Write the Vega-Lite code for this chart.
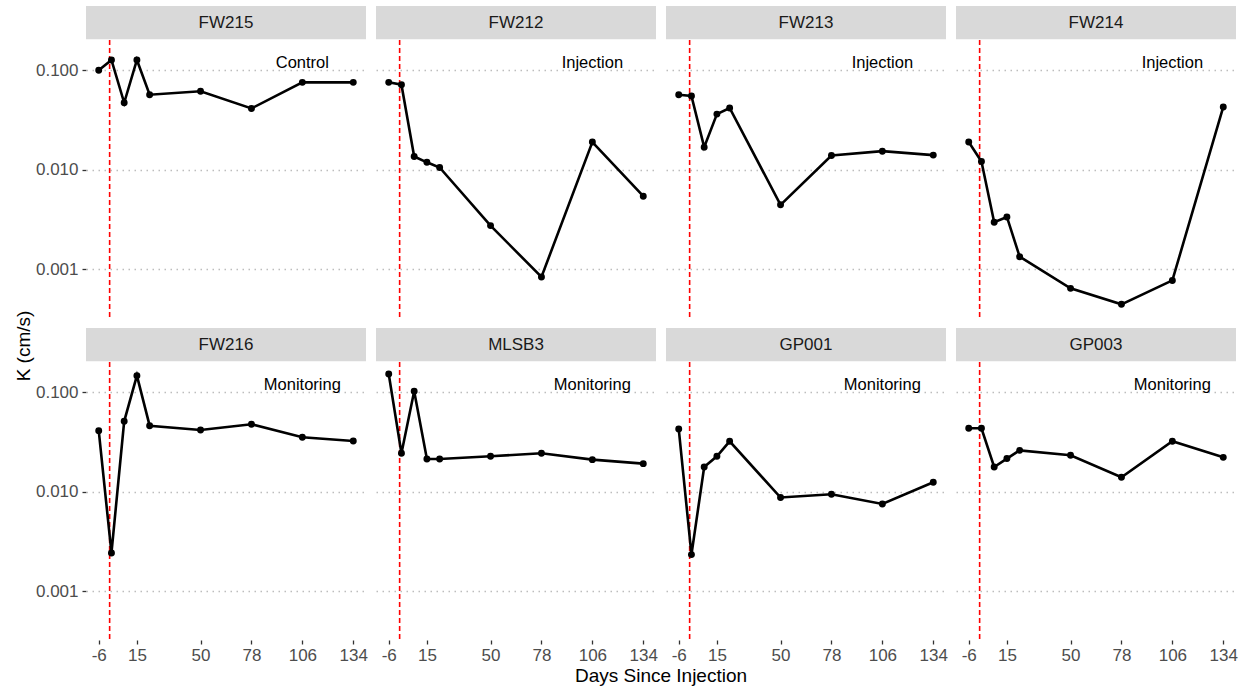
{
  "$schema": "https://vega.github.io/schema/vega-lite/v6.json",
  "background": "white",
  "padding": {"left": 15, "top": 6, "right": 5, "bottom": 5},
  "title": {"text": "K (cm/s)", "orient": "left", "anchor": "middle", "fontSize": 19, "font": "Liberation Sans", "fontWeight": "normal", "color": "black", "offset": 1},
  "data": {"values": [
    {"well": "FW215", "type": "Control", "day": -6, "K": 0.100},
    {"well": "FW215", "type": "Control", "day": 1, "K": 0.127},
    {"well": "FW215", "type": "Control", "day": 8, "K": 0.0472},
    {"well": "FW215", "type": "Control", "day": 15, "K": 0.127},
    {"well": "FW215", "type": "Control", "day": 22, "K": 0.0569},
    {"well": "FW215", "type": "Control", "day": 50, "K": 0.0615},
    {"well": "FW215", "type": "Control", "day": 78, "K": 0.0414},
    {"well": "FW215", "type": "Control", "day": 106, "K": 0.0757},
    {"well": "FW215", "type": "Control", "day": 134, "K": 0.0757},
    {"well": "FW212", "type": "Injection", "day": -6, "K": 0.0757},
    {"well": "FW212", "type": "Injection", "day": 1, "K": 0.0717},
    {"well": "FW212", "type": "Injection", "day": 8, "K": 0.0136},
    {"well": "FW212", "type": "Injection", "day": 15, "K": 0.0119},
    {"well": "FW212", "type": "Injection", "day": 22, "K": 0.01055},
    {"well": "FW212", "type": "Injection", "day": 50, "K": 0.00275},
    {"well": "FW212", "type": "Injection", "day": 78, "K": 0.000838},
    {"well": "FW212", "type": "Injection", "day": 106, "K": 0.0190},
    {"well": "FW212", "type": "Injection", "day": 134, "K": 0.00543},
    {"well": "FW213", "type": "Injection", "day": -6, "K": 0.0569},
    {"well": "FW213", "type": "Injection", "day": 1, "K": 0.0552},
    {"well": "FW213", "type": "Injection", "day": 8, "K": 0.0169},
    {"well": "FW213", "type": "Injection", "day": 15, "K": 0.0363},
    {"well": "FW213", "type": "Injection", "day": 22, "K": 0.0418},
    {"well": "FW213", "type": "Injection", "day": 50, "K": 0.00445},
    {"well": "FW213", "type": "Injection", "day": 78, "K": 0.01394},
    {"well": "FW213", "type": "Injection", "day": 106, "K": 0.0154},
    {"well": "FW213", "type": "Injection", "day": 134, "K": 0.01406},
    {"well": "FW214", "type": "Injection", "day": -6, "K": 0.0190},
    {"well": "FW214", "type": "Injection", "day": 1, "K": 0.01213},
    {"well": "FW214", "type": "Injection", "day": 8, "K": 0.00297},
    {"well": "FW214", "type": "Injection", "day": 15, "K": 0.00336},
    {"well": "FW214", "type": "Injection", "day": 22, "K": 0.00134},
    {"well": "FW214", "type": "Injection", "day": 50, "K": 0.000644},
    {"well": "FW214", "type": "Injection", "day": 78, "K": 0.000445},
    {"well": "FW214", "type": "Injection", "day": 106, "K": 0.000774},
    {"well": "FW214", "type": "Injection", "day": 134, "K": 0.0428},
    {"well": "FW216", "type": "Monitoring", "day": -6, "K": 0.0412},
    {"well": "FW216", "type": "Monitoring", "day": 1, "K": 0.00243},
    {"well": "FW216", "type": "Monitoring", "day": 8, "K": 0.0511},
    {"well": "FW216", "type": "Monitoring", "day": 15, "K": 0.147},
    {"well": "FW216", "type": "Monitoring", "day": 22, "K": 0.0462},
    {"well": "FW216", "type": "Monitoring", "day": 50, "K": 0.0418},
    {"well": "FW216", "type": "Monitoring", "day": 78, "K": 0.0477},
    {"well": "FW216", "type": "Monitoring", "day": 106, "K": 0.0353},
    {"well": "FW216", "type": "Monitoring", "day": 134, "K": 0.0324},
    {"well": "MLSB3", "type": "Monitoring", "day": -6, "K": 0.1527},
    {"well": "MLSB3", "type": "Monitoring", "day": 1, "K": 0.0244},
    {"well": "MLSB3", "type": "Monitoring", "day": 8, "K": 0.1023},
    {"well": "MLSB3", "type": "Monitoring", "day": 15, "K": 0.0214},
    {"well": "MLSB3", "type": "Monitoring", "day": 22, "K": 0.0214},
    {"well": "MLSB3", "type": "Monitoring", "day": 50, "K": 0.02276},
    {"well": "MLSB3", "type": "Monitoring", "day": 78, "K": 0.0244},
    {"well": "MLSB3", "type": "Monitoring", "day": 106, "K": 0.02105},
    {"well": "MLSB3", "type": "Monitoring", "day": 134, "K": 0.0192},
    {"well": "GP001", "type": "Monitoring", "day": -6, "K": 0.0428},
    {"well": "GP001", "type": "Monitoring", "day": 1, "K": 0.00234},
    {"well": "GP001", "type": "Monitoring", "day": 8, "K": 0.01777},
    {"well": "GP001", "type": "Monitoring", "day": 15, "K": 0.02276},
    {"well": "GP001", "type": "Monitoring", "day": 22, "K": 0.0322},
    {"well": "GP001", "type": "Monitoring", "day": 50, "K": 0.00877},
    {"well": "GP001", "type": "Monitoring", "day": 78, "K": 0.00945},
    {"well": "GP001", "type": "Monitoring", "day": 106, "K": 0.00755},
    {"well": "GP001", "type": "Monitoring", "day": 134, "K": 0.01246},
    {"well": "GP003", "type": "Monitoring", "day": -6, "K": 0.0435},
    {"well": "GP003", "type": "Monitoring", "day": 1, "K": 0.0435},
    {"well": "GP003", "type": "Monitoring", "day": 8, "K": 0.01777},
    {"well": "GP003", "type": "Monitoring", "day": 15, "K": 0.0216},
    {"well": "GP003", "type": "Monitoring", "day": 22, "K": 0.0261},
    {"well": "GP003", "type": "Monitoring", "day": 50, "K": 0.02327},
    {"well": "GP003", "type": "Monitoring", "day": 78, "K": 0.014},
    {"well": "GP003", "type": "Monitoring", "day": 106, "K": 0.0322},
    {"well": "GP003", "type": "Monitoring", "day": 134, "K": 0.0222}
  ]},
  "facet": {
    "field": "well", "type": "nominal",
    "sort": ["FW215", "FW212", "FW213", "FW214", "FW216", "MLSB3", "GP001", "GP003"],
    "header": {"title": "Days Since Injection", "titleOrient": "bottom", "labels": false, "labelExpr": "''", "labelFontSize": 0, "labelPadding": 0, "titleFontSize": 19, "titleFont": "Liberation Sans", "titleFontWeight": "normal", "titleColor": "black", "titlePadding": 4}
  },
  "columns": 4,
  "spacing": {"row": 10, "column": 10},
  "spec": {
    "width": 280,
    "height": 311,
    "layer": [
      {
        "transform": [{"filter": "datum.day == -6"}],
        "mark": {"type": "rect", "color": "#d9d9d9"},
        "encoding": {
          "x": {"datum": -13, "type": "quantitative"},
          "x2": {"datum": 141},
          "y": {"datum": 0.2048, "type": "quantitative"},
          "y2": {"datum": 0.4428}
        }
      },
      {
        "transform": [{"filter": "datum.day == -6"}],
        "mark": {"type": "text", "fontSize": 17, "color": "#1a1a1a", "align": "center", "baseline": "middle", "font": "Liberation Sans"},
        "encoding": {
          "x": {"datum": 64, "type": "quantitative"},
          "y": {"datum": 0.3012, "type": "quantitative"},
          "text": {"field": "well"}
        }
      },
      {
        "transform": [{"filter": "datum.day == -6"}],
        "mark": {"type": "text", "fontSize": 16.5, "color": "black", "align": "center", "baseline": "middle", "font": "Liberation Sans"},
        "encoding": {
          "x": {"datum": 106, "type": "quantitative"},
          "y": {"datum": 0.118, "type": "quantitative"},
          "text": {"field": "type"}
        }
      },
      {
        "transform": [{"filter": "datum.day == -6"}],
        "mark": {"type": "rule", "color": "#ff0000", "strokeDash": [5, 3], "strokeWidth": 1.6},
        "encoding": {
          "x": {"datum": 0, "type": "quantitative"},
          "y": {"datum": 0.000332, "type": "quantitative"},
          "y2": {"datum": 0.2048}
        }
      },
      {
        "mark": {"type": "line", "color": "black", "strokeWidth": 2.6},
        "encoding": {
          "x": {"field": "day", "type": "quantitative",
                "scale": {"domain": [-13, 141], "nice": false, "zero": false},
                "axis": {"values": [-6, 15, 50, 78, 106, 134], "labelExpr": "'' + datum.value", "title": null, "grid": false}},
          "y": {"field": "K", "type": "quantitative",
                "scale": {"type": "log", "domain": [0.000332, 0.4428], "nice": false},
                "axis": {"values": [0.001, 0.01, 0.1], "format": ".3f", "title": null, "grid": true}}
        }
      },
      {
        "mark": {"type": "circle", "color": "black", "size": 48, "opacity": 1},
        "encoding": {
          "x": {"field": "day", "type": "quantitative"},
          "y": {"field": "K", "type": "quantitative"}
        }
      }
    ]
  },
  "config": {
    "font": "Liberation Sans",
    "view": {"stroke": null},
    "header": {"labels": false},
    "axis": {
      "domain": false,
      "tickColor": "#333333",
      "tickSize": 4,
      "tickWidth": 1.3,
      "labelFontSize": 17,
      "labelColor": "#4d4d4d",
      "labelFont": "Liberation Sans",
      "gridColor": "#bdbdbd",
      "gridDash": [1.5, 4.5],
      "gridWidth": 1.5
    },
    "axisX": {"labelPadding": 3},
    "axisY": {"labelPadding": 4}
  }
}
